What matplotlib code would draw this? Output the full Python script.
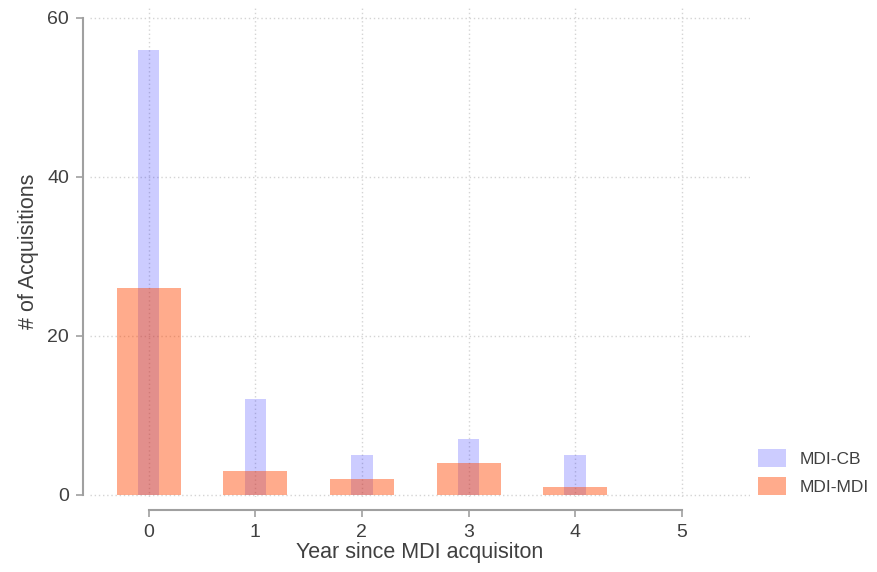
import matplotlib.pyplot as plt

plt.rcParams['font.family'] = ['Liberation Sans', 'DejaVu Sans']

# acquisitions per year since the MDI acquisition
years = [0, 1, 2, 3, 4]
mdi_cb = [56, 12, 5, 7, 5]
mdi_mdi = [26, 3, 2, 4, 1]
xticks = [0, 1, 2, 3, 4, 5]
yticks = [0, 20, 40, 60]

fig = plt.figure(figsize=(8.77, 5.72), dpi=100)
ax = fig.add_axes([90 / 877, 1 - 497 / 572, 660 / 877, 491 / 572])

ax.bar(years, mdi_cb, width=0.2, color='#0000ff', alpha=0.2, label='MDI-CB', zorder=2)
ax.bar(years, mdi_mdi, width=0.6, color='#ff4500', alpha=0.45, label='MDI-MDI', zorder=3)

ax.set_xlim(-0.55, 5.64)
ax.set_ylim(-0.3, 61.5)
ax.set_xticks(xticks)
ax.set_yticks(yticks)

# dotted grid behind the bars
ax.grid(True, linestyle=(0, (1, 2)), color='#d4d4d4', linewidth=1, zorder=0)
ax.set_axisbelow(True)

for side in ['top', 'right']:
    ax.spines[side].set_visible(False)
ax.spines['left'].set_position(('outward', 5))
ax.spines['bottom'].set_position(('outward', 9.5))
ax.spines['left'].set_bounds(0, 60)
ax.spines['bottom'].set_bounds(0, 5)
for side in ['left', 'bottom']:
    ax.spines[side].set_color('#a0a0a0')
    ax.spines[side].set_linewidth(1.5)

ax.tick_params(colors='#a0a0a0', length=5, width=1.2, labelsize=14,
               labelcolor='#404040', pad=5)

ax.set_xlabel('Year since MDI acquisiton', fontsize=15.5, color='#404040', labelpad=1)
ax.set_ylabel('# of Acquisitions', fontsize=15.5, color='#404040', labelpad=6)

fig.legend(loc='center left', bbox_to_anchor=(758 / 877, 1 - 472 / 572),
           borderaxespad=0, borderpad=0, frameon=False, fontsize=12.5,
           handlelength=1.6, handleheight=1.2, handletextpad=0.8,
           labelspacing=0.6, labelcolor='#404040')

fig.savefig('out.png', dpi=100)
